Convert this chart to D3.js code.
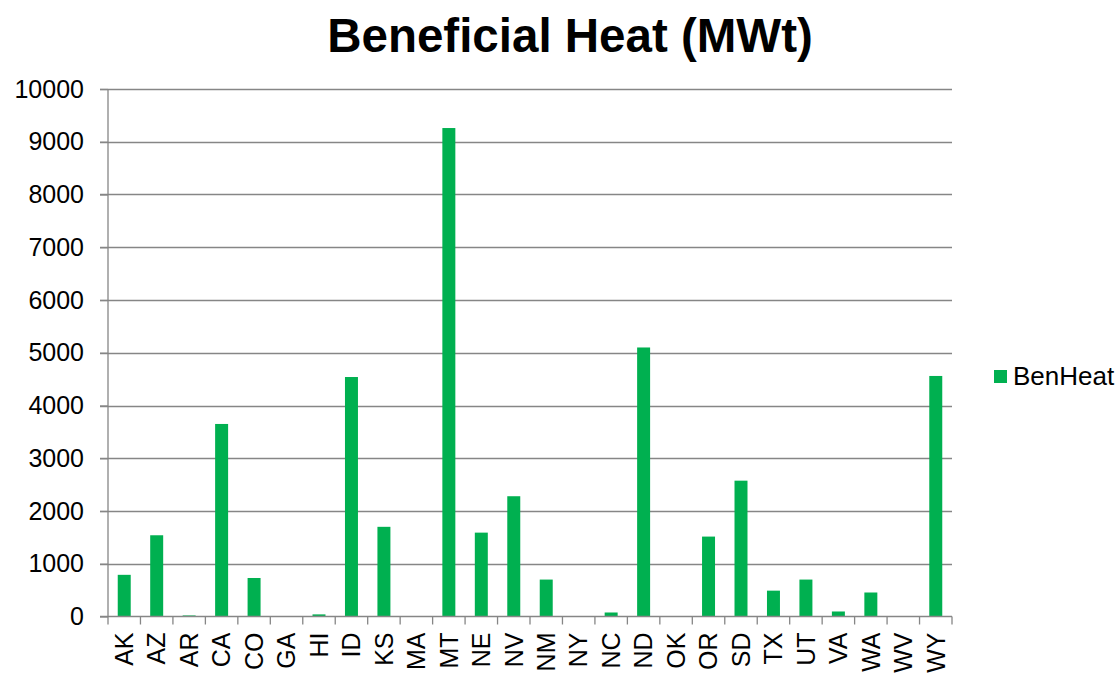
<!DOCTYPE html>
<html><head><meta charset="utf-8">
<script src="https://cdn.jsdelivr.net/npm/d3@7"></script>
<style>
html,body{margin:0;padding:0;background:#fff;}
svg{display:block;font-family:"Liberation Sans",Arial,sans-serif;}
</style></head>
<body><svg id="c" width="1120" height="677"></svg>
<script>
const categories = ["AK","AZ","AR","CA","CO","GA","HI","ID","KS","MA","MT","NE","NV","NM","NY","NC","ND","OK","OR","SD","TX","UT","VA","WA","WV","WY"];
const benHeat = [790,1540,20,3650,730,0,40,4540,1700,0,9260,1590,2280,700,0,76,5100,0,1515,2575,490,700,95,455,0,4560];
const yTicks = [0,1000,2000,3000,4000,5000,6000,7000,8000,9000,10000];
const seriesName = "BenHeat";
const title = "Beneficial Heat (MWt)";

const svg = d3.select("#c");
const L = 108, R = 952, T = 89, B = 616.5;
const grid = "#868686", green = "#00B050";

const x = d3.scaleBand().domain(categories).range([L, R]).paddingInner(0).paddingOuter(0);
const y = d3.scaleLinear().domain([0, 10000]).range([B, T]);

// gridlines
svg.append("g").selectAll("line").data(yTicks.filter(d => d > 0)).join("line")
  .attr("x1", L - 8).attr("x2", R)
  .attr("y1", d => Math.round(y(d)) + 0.5).attr("y2", d => Math.round(y(d)) + 0.5)
  .attr("stroke", grid).attr("stroke-width", 1.3);

// bars
const bw = x.bandwidth() * 0.4;
svg.append("g").selectAll("rect").data(categories).join("rect")
  .attr("x", (d) => x(d) + (x.bandwidth() - bw) / 2)
  .attr("width", bw)
  .attr("y", (d, i) => y(benHeat[i]))
  .attr("height", (d, i) => B - y(benHeat[i]))
  .attr("fill", green);

// y axis
const yAxis = d3.axisLeft(y).tickValues(yTicks).tickSize(8).tickPadding(16).tickFormat(d3.format("d"));
const gy = svg.append("g").attr("transform", `translate(${L},0)`).call(yAxis);
gy.select(".domain").attr("stroke", grid).attr("stroke-width", 1.3).attr("d", `M0,${T}V${B}`);
gy.selectAll(".tick line").attr("stroke", grid).attr("stroke-width", 1.3);
gy.selectAll(".tick text").attr("font-size", 25).attr("fill", "#000").attr("font-family", "Liberation Sans, Arial, sans-serif");

// x axis line and ticks at band boundaries
svg.append("line").attr("x1", L - 8).attr("x2", R).attr("y1", B).attr("y2", B).attr("stroke", grid).attr("stroke-width", 1.3);
const bounds = categories.map(c => x(c)).concat([R]);
svg.append("g").selectAll("line").data(bounds).join("line")
  .attr("x1", d => d).attr("x2", d => d).attr("y1", B).attr("y2", B + 8)
  .attr("stroke", grid).attr("stroke-width", 1.3);

// x labels rotated
svg.append("g").selectAll("text").data(categories).join("text")
  .attr("transform", d => `translate(${x(d) + x.bandwidth() / 2},${B + 16}) rotate(-90)`)
  .attr("text-anchor", "end").attr("dy", "0.35em")
  .attr("font-size", 25).attr("fill", "#000")
  .text(d => d);

// title
svg.append("text").attr("x", 570).attr("y", 52).attr("text-anchor", "middle")
  .attr("font-size", 47.5).attr("font-weight", "bold").attr("fill", "#000").text(title);

// legend
svg.append("rect").attr("x", 994).attr("y", 370).attr("width", 13).attr("height", 13).attr("fill", green);
svg.append("text").attr("x", 1013).attr("y", 385).attr("font-size", 26).attr("fill", "#000").text(seriesName);
</script></body></html>
